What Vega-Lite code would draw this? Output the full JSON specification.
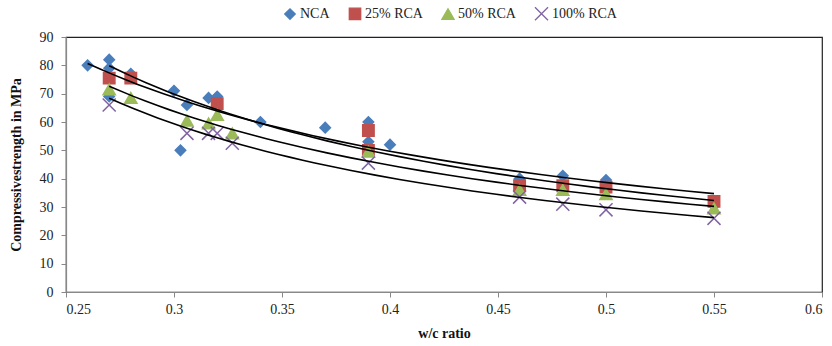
{
  "$schema": "https://vega.github.io/schema/vega-lite/v6.json",
  "width": 756,
  "height": 255,
  "autosize": {"type": "none"},
  "padding": {"left": 66, "top": 37, "right": 10, "bottom": 54},
  "background": "white",
  "config": {
    "font": "Liberation Serif",
    "view": {"stroke": "#222222", "strokeWidth": 1.2},
    "axis": {"grid": false, "domainColor": "#888888", "tickColor": "#888888", "labelColor": "#222222", "labelFontSize": 14, "titleFontSize": 14, "titleFontWeight": "bold", "titleColor": "#111111", "tickSize": 5, "domainWidth": 1.2, "labelOverlap": false},
    "legend": {"labelFontSize": 14, "labelColor": "#222222"}
  },
  "data": {
    "values": [
      {"series": "NCA", "wc": 0.26, "strength": 80},
      {"series": "NCA", "wc": 0.27, "strength": 82},
      {"series": "NCA", "wc": 0.27, "strength": 79},
      {"series": "NCA", "wc": 0.27, "strength": 69},
      {"series": "NCA", "wc": 0.28, "strength": 77},
      {"series": "NCA", "wc": 0.30, "strength": 71},
      {"series": "NCA", "wc": 0.303, "strength": 50},
      {"series": "NCA", "wc": 0.306, "strength": 66},
      {"series": "NCA", "wc": 0.316, "strength": 68.5},
      {"series": "NCA", "wc": 0.32, "strength": 69},
      {"series": "NCA", "wc": 0.34, "strength": 60},
      {"series": "NCA", "wc": 0.37, "strength": 58},
      {"series": "NCA", "wc": 0.39, "strength": 60},
      {"series": "NCA", "wc": 0.39, "strength": 53},
      {"series": "NCA", "wc": 0.40, "strength": 52},
      {"series": "NCA", "wc": 0.46, "strength": 40},
      {"series": "NCA", "wc": 0.48, "strength": 41},
      {"series": "NCA", "wc": 0.50, "strength": 39.5},
      {"series": "NCA", "wc": 0.55, "strength": 30.5},
      {"series": "25% RCA", "wc": 0.27, "strength": 75.5},
      {"series": "25% RCA", "wc": 0.28, "strength": 75.5},
      {"series": "25% RCA", "wc": 0.32, "strength": 66.5},
      {"series": "25% RCA", "wc": 0.39, "strength": 57},
      {"series": "25% RCA", "wc": 0.39, "strength": 50},
      {"series": "25% RCA", "wc": 0.46, "strength": 37.5},
      {"series": "25% RCA", "wc": 0.48, "strength": 37.5},
      {"series": "25% RCA", "wc": 0.50, "strength": 37},
      {"series": "25% RCA", "wc": 0.55, "strength": 32},
      {"series": "50% RCA", "wc": 0.27, "strength": 71.5},
      {"series": "50% RCA", "wc": 0.28, "strength": 68.5},
      {"series": "50% RCA", "wc": 0.306, "strength": 60.5},
      {"series": "50% RCA", "wc": 0.316, "strength": 59.5},
      {"series": "50% RCA", "wc": 0.32, "strength": 62.5},
      {"series": "50% RCA", "wc": 0.327, "strength": 56},
      {"series": "50% RCA", "wc": 0.39, "strength": 49.5},
      {"series": "50% RCA", "wc": 0.46, "strength": 36},
      {"series": "50% RCA", "wc": 0.48, "strength": 36},
      {"series": "50% RCA", "wc": 0.50, "strength": 34.5},
      {"series": "50% RCA", "wc": 0.55, "strength": 29.5},
      {"series": "100% RCA", "wc": 0.27, "strength": 66},
      {"series": "100% RCA", "wc": 0.306, "strength": 56},
      {"series": "100% RCA", "wc": 0.316, "strength": 56},
      {"series": "100% RCA", "wc": 0.32, "strength": 56},
      {"series": "100% RCA", "wc": 0.327, "strength": 52.5},
      {"series": "100% RCA", "wc": 0.39, "strength": 45.5},
      {"series": "100% RCA", "wc": 0.46, "strength": 33.5},
      {"series": "100% RCA", "wc": 0.48, "strength": 31},
      {"series": "100% RCA", "wc": 0.50, "strength": 29},
      {"series": "100% RCA", "wc": 0.55, "strength": 26}
    ]
  },
  "layer": [
    {
      "mark": {"type": "point", "filled": true, "opacity": 1, "strokeWidth": 1.5},
      "encoding": {
        "x": {"field": "wc", "type": "quantitative", "scale": {"domain": [0.25, 0.6], "nice": false, "zero": false}, "axis": {"title": "w/c ratio", "values": [0.25, 0.3, 0.35, 0.4, 0.45, 0.5, 0.55, 0.6], "format": ".2~f", "titlePadding": 10, "labelPadding": 5}},
        "y": {"field": "strength", "type": "quantitative", "scale": {"domain": [0, 90], "nice": false}, "axis": {"title": "Compressivestrength in MPa", "values": [0, 10, 20, 30, 40, 50, 60, 70, 80, 90], "tickCount": 10, "labelOverlap": false, "labelFlush": false, "labelPadding": 8, "titlePadding": 16}},
        "color": {"field": "series", "type": "nominal", "scale": {"domain": ["NCA", "25% RCA", "50% RCA", "100% RCA"], "range": ["#4A7EBB", "#C0504D", "#9BBB59", "#8064A2"]}, "legend": {"title": null, "orient": "none", "legendX": 217, "legendY": -31, "direction": "horizontal", "symbolSize": 45, "columnPadding": 16, "labelOffset": 3, "symbolStrokeWidth": 1.3}},
        "shape": {"field": "series", "type": "nominal", "scale": {"domain": ["NCA", "25% RCA", "50% RCA", "100% RCA"], "range": ["diamond", "square", "triangle-up", "M-1,-1L1,1M-1,1L1,-1"]}, "legend": null},
        "size": {"field": "series", "type": "nominal", "scale": {"domain": ["NCA", "25% RCA", "50% RCA", "100% RCA"], "range": [110, 170, 110, 70]}, "legend": null},
        "stroke": {"field": "series", "type": "nominal", "scale": {"domain": ["NCA", "25% RCA", "50% RCA", "100% RCA"], "range": ["#4A7EBB", "#C0504D", "#9BBB59", "#8064A2"]}, "legend": null}
      }
    },
    {
      "transform": [
        {"regression": "strength", "on": "wc", "method": "pow", "groupby": ["series"]}
      ],
      "mark": {"type": "line", "color": "#000000", "strokeWidth": 1.6},
      "encoding": {
        "x": {"field": "wc", "type": "quantitative"},
        "y": {"field": "strength", "type": "quantitative"},
        "detail": {"field": "series", "type": "nominal"}
      }
    }
  ]
}
